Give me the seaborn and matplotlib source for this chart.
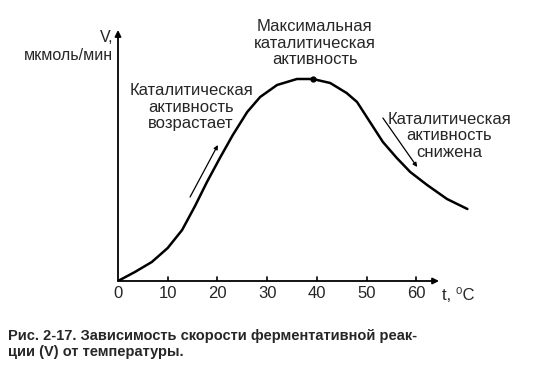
import matplotlib
matplotlib.use("Agg")
import matplotlib.pyplot as plt
import seaborn as sns
import pandas as pd

# values (V in relative units)
temps = [0, 3.4, 6.8, 10, 12.9, 15.5, 17.9, 20.5, 23.1, 26, 28.6, 32, 36,
         39.2, 42.7, 46, 48.1, 50.7, 53.3, 56.1, 58.8, 62.2, 66.2, 70.3]
rate = [0, 9, 19, 33, 51, 75, 99, 123, 146, 169, 184, 196, 202,
        202, 198, 188, 179, 159, 139, 123, 109, 96, 82, 72]
xticks = [10, 20, 30, 40, 50, 60]
peak_t, peak_v = 39.2, 202

df = pd.DataFrame({"t": temps, "V": rate})

sns.set_style("white")
plt.rcParams["font.family"] = ["Liberation Sans", "DejaVu Sans"]

fig = plt.figure(figsize=(5.47, 3.87), dpi=100)
ax = fig.add_axes([118 / 547, 106 / 387, 372 / 547, 256 / 387])
ax.set_xlim(0, 372 / 4.97)
ax.set_ylim(0, 256)
ax.axis("off")

sns.lineplot(data=df, x="t", y="V", ax=ax, color="black", linewidth=1.8,
             solid_joinstyle="round", solid_capstyle="round")
ax.plot([peak_t], [peak_v], "o", color="black", markersize=3.5)

# axes with arrows
ax.annotate("", xy=(64.6, 0), xytext=(0, 0),
            arrowprops=dict(arrowstyle="-|>", color="black", lw=1.3,
                            mutation_scale=9, shrinkA=0, shrinkB=0))
ax.annotate("", xy=(0, 251), xytext=(0, 0),
            arrowprops=dict(arrowstyle="-|>", color="black", lw=1.3,
                            mutation_scale=9, shrinkA=0, shrinkB=0))
for t in xticks:
    ax.plot([t, t], [0, 4], color="black", lw=1.2)
    ax.text(t, -12, str(t), ha="center", va="center", fontsize=12)
ax.text(0, -12, "0", ha="center", va="center", fontsize=12)
ax.text(68.5, -14, "t, ⁰C", ha="center", va="center", fontsize=12)

ax.text(-1, 251, "V,\nмкмоль/мин", ha="right", va="top", fontsize=11.5,
        linespacing=1.25)

# little arrows along the curve
ax.annotate("", xy=(20.1, 136), xytext=(14.5, 84),
            arrowprops=dict(arrowstyle="-|>", color="black", lw=0.9,
                            mutation_scale=6, shrinkA=0, shrinkB=0))
ax.annotate("", xy=(60.2, 114), xytext=(53.3, 163),
            arrowprops=dict(arrowstyle="-|>", color="black", lw=0.9,
                            mutation_scale=6, shrinkA=0, shrinkB=0))

ax.text(14.7, 174, "Каталитическая\nактивность\nвозрастает", ha="center",
        va="center", fontsize=12, linespacing=1.15)
ax.text(39.6, 238, "Максимальная\nкаталитическая\nактивность", ha="center",
        va="center", fontsize=12, linespacing=1.15)
ax.text(66.7, 145, "Каталитическая\nактивность\nснижена", ha="center",
        va="center", fontsize=12, linespacing=1.15)

fig.text(8 / 547, 1 - 329 / 387,
         "Рис. 2-17. Зависимость скорости ферментативной реак-\nции (V) от температуры.",
         ha="left", va="top", fontsize=10.5, fontweight="bold", linespacing=1.15)

fig.savefig("out.png", dpi=100)
